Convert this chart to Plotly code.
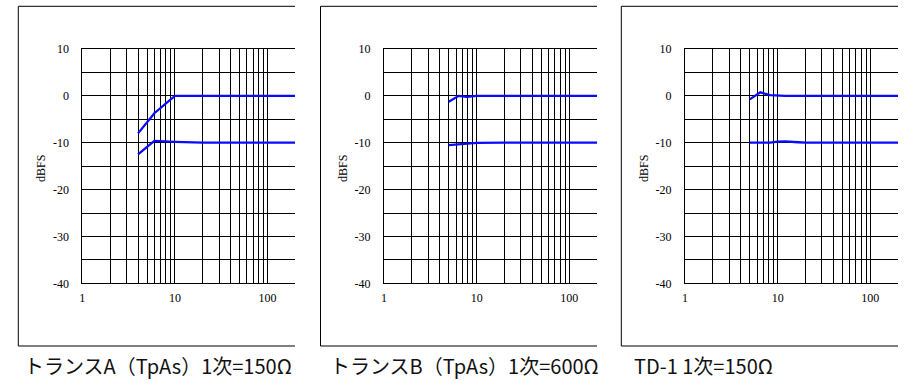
import math
import plotly.graph_objects as go

# ---------------- data ----------------
freq_A = [4, 6, 10, 20, 50, 100, 200, 500, 1000]
level_A_0dB = [-8.0, -3.7, 0.0, 0.0, 0.0, 0.0, 0.0, 0.0, 0.0]
level_A_m10dB = [-12.5, -9.6, -9.8, -10.0, -10.0, -10.0, -10.0, -10.0, -10.0]

freq_B = [5, 6.4, 7.8, 10, 20, 50, 100, 200, 500, 1000]
level_B_0dB = [-1.25, 0.0, -0.2, 0.0, 0.0, 0.0, 0.0, 0.0, 0.0, 0.0]
level_B_m10dB = [-10.5, -10.3, -10.2, -10.05, -10.0, -10.0, -10.0, -10.0, -10.0, -10.0]

freq_C = [5, 6.5, 8.3, 10, 12, 16.7, 20, 50, 100, 200, 500, 1000]
level_C_0dB = [-0.75, 0.75, 0.15, 0.0, 0.0, 0.0, 0.0, 0.0, 0.0, 0.0, 0.0, 0.0]
level_C_m10dB = [-10.0, -10.0, -10.0, -9.75, -9.7, -9.9, -10.0, -10.0, -10.0, -10.0, -10.0, -10.0]

captions = ["トランスA（TpAs）1次=150Ω", "トランスB（TpAs）1次=600Ω", "TD-1 1次=150Ω"]
y_title = "dBFS"

x_tickvals = [1, 2, 3, 4, 5, 6, 7, 8, 9, 10, 20, 30, 40, 50, 60, 70, 80, 90, 100]
x_ticktext = ["1", "", "", "", "", "", "", "", "", "10", "", "", "", "", "", "", "", "", "100"]
y_tickvals = [10, 5, 0, -5, -10, -15, -20, -25, -30, -35, -40]
y_ticktext = ["10", "", "0", "", "-10", "", "-20", "", "-30", "", "-40"]

panels = [
    (freq_A, level_A_0dB, level_A_m10dB),
    (freq_B, level_B_0dB, level_B_m10dB),
    (freq_C, level_C_0dB, level_C_m10dB),
]

# ---------------- layout geometry (pixels) ----------------
W, H = 920, 388
plot_left = [82.3, 384.0, 685.0]
plot_right = [295.0, 597.0, 898.0]
plot_top, plot_bottom = 49.0, 283.3
frame_left = [18.3, 320.5, 621.3]
frame_top, frame_bottom = 6.3, 346.0
caption_x = [22, 328, 632]
caption_y = 365
title_x = [41, 343, 644]

def px(x):
    return x / W

def py(y):
    return 1 - y / H

fig = go.Figure()
layout = dict(
    width=W, height=H,
    margin=dict(l=0, r=0, t=0, b=0, autoexpand=False),
    paper_bgcolor="white", plot_bgcolor="white",
    showlegend=False,
    shapes=[], annotations=[],
)

line_color = "#0a0aff"
serif = "Liberation Serif"
for i, (f, a, b) in enumerate(panels):
    xa = "x" if i == 0 else f"x{i+1}"
    ya = "y" if i == 0 else f"y{i+1}"
    for lv in (a, b):
        fig.add_trace(go.Scatter(x=f, y=lv, mode="lines", xaxis=xa, yaxis=ya,
                                 line=dict(color=line_color, width=2.3),
                                 hoverinfo="skip"))
    decades = (plot_right[i] - plot_left[i]) / 92.6
    xkey = "xaxis" if i == 0 else f"xaxis{i+1}"
    ykey = "yaxis" if i == 0 else f"yaxis{i+1}"
    layout[xkey] = dict(
        type="log", range=[0, min(decades, 2.299)],
        domain=[px(plot_left[i]), px(plot_right[i])],
        anchor=ya, tickmode="array", tickvals=x_tickvals, ticktext=x_ticktext,
        showgrid=True, gridcolor="black", gridwidth=1,
        showline=True, linecolor="black", linewidth=1, mirror=True,
        ticks="", ticklabelstandoff=3, zeroline=False, automargin=False,
        tickfont=dict(family=serif, size=12, color="black"),
        fixedrange=True,
    )
    layout[ykey] = dict(
        range=[-40, 10],
        domain=[py(plot_bottom), py(plot_top)],
        anchor=xa, tickmode="array", tickvals=y_tickvals, ticktext=y_ticktext,
        showgrid=True, gridcolor="black", gridwidth=1,
        showline=True, linecolor="black", linewidth=1, mirror=False,
        ticks="", ticklabelstandoff=10, zeroline=False, automargin=False,
        tickfont=dict(family=serif, size=12, color="black"),
        fixedrange=True,
    )
    # frame (left, top, bottom; cut at right)
    for (x0, y0, x1, y1) in [
        (frame_left[i], frame_top, frame_left[i], frame_bottom),
        (frame_left[i], frame_top, plot_right[i], frame_top),
        (frame_left[i], frame_bottom, plot_right[i], frame_bottom),
    ]:
        layout["shapes"].append(dict(type="line", xref="paper", yref="paper",
                                     x0=px(x0), y0=py(y0), x1=px(x1), y1=py(y1),
                                     line=dict(color="black", width=1)))
    layout["annotations"].append(dict(
        text=y_title, xref="paper", yref="paper", x=px(title_x[i]), y=py(169),
        xanchor="center", yanchor="middle", textangle=-90, showarrow=False,
        font=dict(family=serif, size=12, color="black")))
    layout["annotations"].append(dict(
        text=captions[i], xref="paper", yref="paper", x=px(caption_x[i]), y=py(caption_y),
        xanchor="left", yanchor="middle", showarrow=False,
        font=dict(family="Noto Sans CJK JP", size=20, color="#111111")))

fig.update_layout(**layout)
fig.write_html("out.html",
               config={"displayModeBar": False, "staticPlot": True},
               post_script="document.body.style.margin='0';document.body.style.overflow='hidden';")
